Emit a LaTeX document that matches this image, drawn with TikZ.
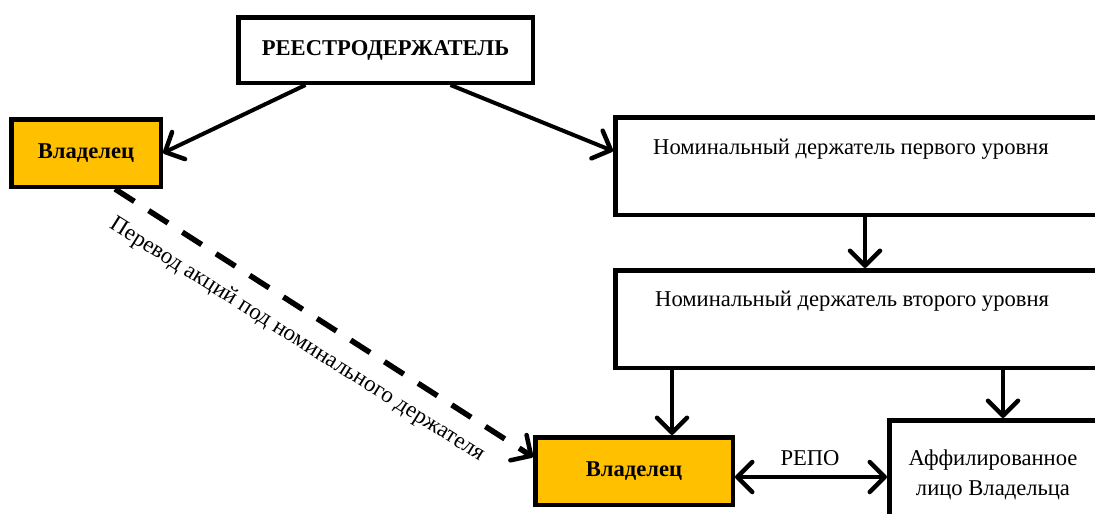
\documentclass[tikz,border=0pt]{standalone}
\usepackage{fontspec}
\setmainfont{Liberation Serif}
\usetikzlibrary{arrows.meta}
\usetikzlibrary{calc}

\definecolor{ownergold}{RGB}{255,192,0}

\tikzset{
  barb/.tip={Straight Barb[length=15pt,width=30pt,line width=4.5pt,round]},
  box/.style={draw, line width=4.5pt, inner sep=0pt},
  ownerbox/.style={box, fill=ownergold, font=\bfseries\fontsize{22.6}{26}\selectfont},
  link/.style={line width=4pt, -barb},
  twoway/.style={line width=4pt, barb-barb},
  transfer/.style={link, line width=5.5pt, dash pattern=on 23pt off 17pt}
}

\begin{document}
\begin{tikzpicture}[x=1pt,y=1pt,yscale=-1,font=\fontsize{22.6}{26}\selectfont]
\useasboundingbox (0,0) rectangle (1095,514);
\clip (0,0) rectangle (1095,514);

%Shape: Rectangle
\node[box, minimum width=294.5pt, minimum height=65.5pt, font=\bfseries\fontsize{22.6}{26}\selectfont] (reg) at (385.5,50) {РЕЕСТРОДЕРЖАТЕЛЬ};
%Shape: Rectangle
\node[ownerbox, minimum width=149.5pt, minimum height=67.5pt] (own1) at (86,153) {Владелец};
%Shape: Rectangle
\node[box, minimum width=600pt, minimum height=97.5pt] (nom1) at (915.25,166) {};
%Shape: Rectangle
\node[box, minimum width=600pt, minimum height=97.5pt] (nom2) at (915.25,319) {};
%Shape: Rectangle
\node[ownerbox, minimum width=197.5pt, minimum height=67.5pt] (own2) at (634,471) {Владелец};
%Shape: Rectangle
\node[box, minimum width=400pt, minimum height=200pt] (aff) at (1089.25,520.25) {};

% Text Node
\node[anchor=west, inner sep=0pt] (nom1txt) at (653,149) {Номинальный держатель первого уровня};
% Text Node
\node[anchor=west, inner sep=0pt] (nom2txt) at (655,301) {Номинальный держатель второго уровня};
% Text Node
\node[align=center, inner sep=0pt, font=\fontsize{22.6}{30}\selectfont] (afftxt) at (993,475) {Аффилированное\\лицо Владельца};
% Text Node
\node[inner sep=0pt] (repo) at (810,458) {РЕПО};
% Text Node
\node[inner sep=0pt, rotate=-32.2, font=\fontsize{23}{26}\selectfont] (transfertxt) at (297,340) {Перевод акций под номинального держателя};

% columns of the vertical arrows
\coordinate (c1) at (865,0);
\coordinate (c2) at (672,0);
\coordinate (c3) at (1003,0);
% level of the РЕПО arrow
\coordinate (r) at ($(own2.east)+(0,6)$);

%Straight Lines
\draw[link] ($(reg.south)+(-80,0)$) -- (own1.east);
\draw[link] ($(reg.south)+(65,0)$) -- ($(nom1.west)+(0,-15)$);
\draw[link] (c1 |- nom1.south) -- (c1 |- nom2.north);
\draw[link] (c2 |- nom2.south) -- (c2 |- own2.north);
\draw[link] (c3 |- nom2.south) -- (c3 |- aff.north);
\draw[twoway] (r) -- (r -| aff.west);
%Dashed Line
\draw[transfer] ($(own1.south)+(29,0)$) -- ($(own2.west)+(0,-14)$);

\end{tikzpicture}
\end{document}
